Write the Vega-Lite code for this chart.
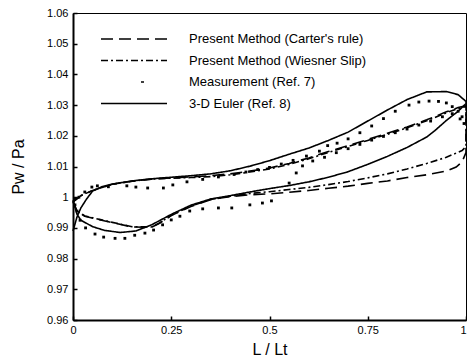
{
  "$schema": "https://vega.github.io/schema/vega-lite/v6.json",
  "width": 393,
  "height": 307,
  "autosize": {"type": "none"},
  "padding": {"left": 73, "top": 13, "right": 1, "bottom": 40},
  "background": "white",
  "config": {
    "view": {"stroke": "black", "strokeWidth": 1},
    "font": "Arial",
    "axis": {
      "domainColor": "black", "domainWidth": 2, "tickColor": "black", "tickWidth": 1.5,
      "grid": false, "labelColor": "black", "titleColor": "black",
      "labelFont": "Arial", "labelFontSize": 11, "titleFont": "Arial",
      "titleFontSize": 16, "titleFontWeight": "normal"
    },
    "legend": {
      "symbolType": "stroke", "symbolSize": 4356, "symbolStrokeWidth": 1.6,
      "symbolStrokeColor": "black", "labelFont": "Arial", "labelFontSize": 13,
      "labelColor": "black", "labelOffset": 21, "rowPadding": 7.5, "clipHeight": 13,
      "padding": 0, "labelLimit": 300
    }
  },
  "datasets": {
    "curves": [
      {"s": "Present Method (Carter's rule)", "i": 1, "L": 0.00, "P": 0.9985},
      {"s": "Present Method (Carter's rule)", "i": 2, "L": 0.02, "P": 1.0005},
      {"s": "Present Method (Carter's rule)", "i": 3, "L": 0.05, "P": 1.0022},
      {"s": "Present Method (Carter's rule)", "i": 4, "L": 0.10, "P": 1.0042},
      {"s": "Present Method (Carter's rule)", "i": 5, "L": 0.15, "P": 1.0052},
      {"s": "Present Method (Carter's rule)", "i": 6, "L": 0.20, "P": 1.0059},
      {"s": "Present Method (Carter's rule)", "i": 7, "L": 0.25, "P": 1.0063},
      {"s": "Present Method (Carter's rule)", "i": 8, "L": 0.30, "P": 1.0066},
      {"s": "Present Method (Carter's rule)", "i": 9, "L": 0.35, "P": 1.0070},
      {"s": "Present Method (Carter's rule)", "i": 10, "L": 0.40, "P": 1.0076},
      {"s": "Present Method (Carter's rule)", "i": 11, "L": 0.45, "P": 1.0085},
      {"s": "Present Method (Carter's rule)", "i": 12, "L": 0.50, "P": 1.0095},
      {"s": "Present Method (Carter's rule)", "i": 13, "L": 0.55, "P": 1.0110},
      {"s": "Present Method (Carter's rule)", "i": 14, "L": 0.60, "P": 1.0128},
      {"s": "Present Method (Carter's rule)", "i": 15, "L": 0.65, "P": 1.0149},
      {"s": "Present Method (Carter's rule)", "i": 16, "L": 0.70, "P": 1.0168},
      {"s": "Present Method (Carter's rule)", "i": 17, "L": 0.75, "P": 1.0188},
      {"s": "Present Method (Carter's rule)", "i": 18, "L": 0.80, "P": 1.0208},
      {"s": "Present Method (Carter's rule)", "i": 19, "L": 0.85, "P": 1.0229},
      {"s": "Present Method (Carter's rule)", "i": 20, "L": 0.90, "P": 1.0252},
      {"s": "Present Method (Carter's rule)", "i": 21, "L": 0.95, "P": 1.0278},
      {"s": "Present Method (Carter's rule)", "i": 22, "L": 0.98, "P": 1.0292},
      {"s": "Present Method (Carter's rule)", "i": 23, "L": 1.00, "P": 1.0298},
      {"s": "Present Method (Carter's rule)", "i": 24, "L": 1.00, "P": 1.0145},
      {"s": "Present Method (Carter's rule)", "i": 25, "L": 0.99, "P": 1.0115},
      {"s": "Present Method (Carter's rule)", "i": 26, "L": 0.975, "P": 1.0098},
      {"s": "Present Method (Carter's rule)", "i": 27, "L": 0.95, "P": 1.0085},
      {"s": "Present Method (Carter's rule)", "i": 28, "L": 0.90, "P": 1.0073},
      {"s": "Present Method (Carter's rule)", "i": 29, "L": 0.85, "P": 1.0064},
      {"s": "Present Method (Carter's rule)", "i": 30, "L": 0.80, "P": 1.0053},
      {"s": "Present Method (Carter's rule)", "i": 31, "L": 0.75, "P": 1.0045},
      {"s": "Present Method (Carter's rule)", "i": 32, "L": 0.70, "P": 1.0036},
      {"s": "Present Method (Carter's rule)", "i": 33, "L": 0.65, "P": 1.0029},
      {"s": "Present Method (Carter's rule)", "i": 34, "L": 0.60, "P": 1.0022},
      {"s": "Present Method (Carter's rule)", "i": 35, "L": 0.55, "P": 1.0016},
      {"s": "Present Method (Carter's rule)", "i": 36, "L": 0.50, "P": 1.0011},
      {"s": "Present Method (Carter's rule)", "i": 37, "L": 0.45, "P": 1.0008},
      {"s": "Present Method (Carter's rule)", "i": 38, "L": 0.40, "P": 1.0002},
      {"s": "Present Method (Carter's rule)", "i": 39, "L": 0.35, "P": 0.9992},
      {"s": "Present Method (Carter's rule)", "i": 40, "L": 0.30, "P": 0.9970},
      {"s": "Present Method (Carter's rule)", "i": 41, "L": 0.25, "P": 0.9940},
      {"s": "Present Method (Carter's rule)", "i": 42, "L": 0.22, "P": 0.9915},
      {"s": "Present Method (Carter's rule)", "i": 43, "L": 0.20, "P": 0.9902},
      {"s": "Present Method (Carter's rule)", "i": 44, "L": 0.15, "P": 0.9903},
      {"s": "Present Method (Carter's rule)", "i": 45, "L": 0.10, "P": 0.9917},
      {"s": "Present Method (Carter's rule)", "i": 46, "L": 0.07, "P": 0.9926},
      {"s": "Present Method (Carter's rule)", "i": 47, "L": 0.03, "P": 0.9938},
      {"s": "Present Method (Carter's rule)", "i": 48, "L": 0.01, "P": 0.9955},
      {"s": "Present Method (Carter's rule)", "i": 49, "L": 0.00, "P": 0.9985},

      {"s": "Present Method (Wiesner Slip)", "i": 1, "L": 0.00, "P": 0.9985},
      {"s": "Present Method (Wiesner Slip)", "i": 2, "L": 0.02, "P": 1.0005},
      {"s": "Present Method (Wiesner Slip)", "i": 3, "L": 0.05, "P": 1.0022},
      {"s": "Present Method (Wiesner Slip)", "i": 4, "L": 0.10, "P": 1.0042},
      {"s": "Present Method (Wiesner Slip)", "i": 5, "L": 0.15, "P": 1.0052},
      {"s": "Present Method (Wiesner Slip)", "i": 6, "L": 0.20, "P": 1.0059},
      {"s": "Present Method (Wiesner Slip)", "i": 7, "L": 0.25, "P": 1.0062},
      {"s": "Present Method (Wiesner Slip)", "i": 8, "L": 0.30, "P": 1.0064},
      {"s": "Present Method (Wiesner Slip)", "i": 9, "L": 0.35, "P": 1.0067},
      {"s": "Present Method (Wiesner Slip)", "i": 10, "L": 0.40, "P": 1.0073},
      {"s": "Present Method (Wiesner Slip)", "i": 11, "L": 0.45, "P": 1.0082},
      {"s": "Present Method (Wiesner Slip)", "i": 12, "L": 0.50, "P": 1.0092},
      {"s": "Present Method (Wiesner Slip)", "i": 13, "L": 0.55, "P": 1.0107},
      {"s": "Present Method (Wiesner Slip)", "i": 14, "L": 0.60, "P": 1.0125},
      {"s": "Present Method (Wiesner Slip)", "i": 15, "L": 0.65, "P": 1.0146},
      {"s": "Present Method (Wiesner Slip)", "i": 16, "L": 0.70, "P": 1.0165},
      {"s": "Present Method (Wiesner Slip)", "i": 17, "L": 0.75, "P": 1.0185},
      {"s": "Present Method (Wiesner Slip)", "i": 18, "L": 0.80, "P": 1.0205},
      {"s": "Present Method (Wiesner Slip)", "i": 19, "L": 0.85, "P": 1.0226},
      {"s": "Present Method (Wiesner Slip)", "i": 20, "L": 0.90, "P": 1.0249},
      {"s": "Present Method (Wiesner Slip)", "i": 21, "L": 0.95, "P": 1.0275},
      {"s": "Present Method (Wiesner Slip)", "i": 22, "L": 0.98, "P": 1.0289},
      {"s": "Present Method (Wiesner Slip)", "i": 23, "L": 1.00, "P": 1.0295},
      {"s": "Present Method (Wiesner Slip)", "i": 24, "L": 1.00, "P": 1.0165},
      {"s": "Present Method (Wiesner Slip)", "i": 25, "L": 0.99, "P": 1.0152},
      {"s": "Present Method (Wiesner Slip)", "i": 26, "L": 0.95, "P": 1.0130},
      {"s": "Present Method (Wiesner Slip)", "i": 27, "L": 0.90, "P": 1.0110},
      {"s": "Present Method (Wiesner Slip)", "i": 28, "L": 0.85, "P": 1.0092},
      {"s": "Present Method (Wiesner Slip)", "i": 29, "L": 0.80, "P": 1.0076},
      {"s": "Present Method (Wiesner Slip)", "i": 30, "L": 0.75, "P": 1.0063},
      {"s": "Present Method (Wiesner Slip)", "i": 31, "L": 0.70, "P": 1.0051},
      {"s": "Present Method (Wiesner Slip)", "i": 32, "L": 0.65, "P": 1.0041},
      {"s": "Present Method (Wiesner Slip)", "i": 33, "L": 0.60, "P": 1.0032},
      {"s": "Present Method (Wiesner Slip)", "i": 34, "L": 0.55, "P": 1.0025},
      {"s": "Present Method (Wiesner Slip)", "i": 35, "L": 0.50, "P": 1.0018},
      {"s": "Present Method (Wiesner Slip)", "i": 36, "L": 0.45, "P": 1.0012},
      {"s": "Present Method (Wiesner Slip)", "i": 37, "L": 0.40, "P": 1.0003},
      {"s": "Present Method (Wiesner Slip)", "i": 38, "L": 0.35, "P": 0.9993},
      {"s": "Present Method (Wiesner Slip)", "i": 39, "L": 0.30, "P": 0.9971},
      {"s": "Present Method (Wiesner Slip)", "i": 40, "L": 0.25, "P": 0.9941},
      {"s": "Present Method (Wiesner Slip)", "i": 41, "L": 0.22, "P": 0.9916},
      {"s": "Present Method (Wiesner Slip)", "i": 42, "L": 0.20, "P": 0.9903},
      {"s": "Present Method (Wiesner Slip)", "i": 43, "L": 0.15, "P": 0.9904},
      {"s": "Present Method (Wiesner Slip)", "i": 44, "L": 0.10, "P": 0.9918},
      {"s": "Present Method (Wiesner Slip)", "i": 45, "L": 0.07, "P": 0.9927},
      {"s": "Present Method (Wiesner Slip)", "i": 46, "L": 0.03, "P": 0.9939},
      {"s": "Present Method (Wiesner Slip)", "i": 47, "L": 0.01, "P": 0.9956},
      {"s": "Present Method (Wiesner Slip)", "i": 48, "L": 0.00, "P": 0.9985},

      {"s": "3-D Euler (Ref. 8)", "i": 1, "L": 0.00, "P": 0.9890},
      {"s": "3-D Euler (Ref. 8)", "i": 2, "L": 0.01, "P": 0.9935},
      {"s": "3-D Euler (Ref. 8)", "i": 3, "L": 0.02, "P": 0.9965},
      {"s": "3-D Euler (Ref. 8)", "i": 4, "L": 0.035, "P": 0.9995},
      {"s": "3-D Euler (Ref. 8)", "i": 5, "L": 0.05, "P": 1.0020},
      {"s": "3-D Euler (Ref. 8)", "i": 6, "L": 0.075, "P": 1.0035},
      {"s": "3-D Euler (Ref. 8)", "i": 7, "L": 0.10, "P": 1.0043},
      {"s": "3-D Euler (Ref. 8)", "i": 8, "L": 0.15, "P": 1.0053},
      {"s": "3-D Euler (Ref. 8)", "i": 9, "L": 0.20, "P": 1.0060},
      {"s": "3-D Euler (Ref. 8)", "i": 10, "L": 0.25, "P": 1.0065},
      {"s": "3-D Euler (Ref. 8)", "i": 11, "L": 0.30, "P": 1.0070},
      {"s": "3-D Euler (Ref. 8)", "i": 12, "L": 0.35, "P": 1.0076},
      {"s": "3-D Euler (Ref. 8)", "i": 13, "L": 0.40, "P": 1.0086},
      {"s": "3-D Euler (Ref. 8)", "i": 14, "L": 0.45, "P": 1.0101},
      {"s": "3-D Euler (Ref. 8)", "i": 15, "L": 0.50, "P": 1.0119},
      {"s": "3-D Euler (Ref. 8)", "i": 16, "L": 0.55, "P": 1.0140},
      {"s": "3-D Euler (Ref. 8)", "i": 17, "L": 0.60, "P": 1.0160},
      {"s": "3-D Euler (Ref. 8)", "i": 18, "L": 0.65, "P": 1.0185},
      {"s": "3-D Euler (Ref. 8)", "i": 19, "L": 0.70, "P": 1.0212},
      {"s": "3-D Euler (Ref. 8)", "i": 20, "L": 0.75, "P": 1.0248},
      {"s": "3-D Euler (Ref. 8)", "i": 21, "L": 0.80, "P": 1.0284},
      {"s": "3-D Euler (Ref. 8)", "i": 22, "L": 0.85, "P": 1.0318},
      {"s": "3-D Euler (Ref. 8)", "i": 23, "L": 0.90, "P": 1.0343},
      {"s": "3-D Euler (Ref. 8)", "i": 24, "L": 0.95, "P": 1.0344},
      {"s": "3-D Euler (Ref. 8)", "i": 25, "L": 0.98, "P": 1.0334},
      {"s": "3-D Euler (Ref. 8)", "i": 26, "L": 1.00, "P": 1.0312},
      {"s": "3-D Euler (Ref. 8)", "i": 27, "L": 1.00, "P": 1.0305},
      {"s": "3-D Euler (Ref. 8)", "i": 28, "L": 0.98, "P": 1.0280},
      {"s": "3-D Euler (Ref. 8)", "i": 29, "L": 0.95, "P": 1.0250},
      {"s": "3-D Euler (Ref. 8)", "i": 30, "L": 0.92, "P": 1.0216},
      {"s": "3-D Euler (Ref. 8)", "i": 31, "L": 0.90, "P": 1.0196},
      {"s": "3-D Euler (Ref. 8)", "i": 32, "L": 0.85, "P": 1.0162},
      {"s": "3-D Euler (Ref. 8)", "i": 33, "L": 0.80, "P": 1.0133},
      {"s": "3-D Euler (Ref. 8)", "i": 34, "L": 0.75, "P": 1.0107},
      {"s": "3-D Euler (Ref. 8)", "i": 35, "L": 0.70, "P": 1.0083},
      {"s": "3-D Euler (Ref. 8)", "i": 36, "L": 0.65, "P": 1.0065},
      {"s": "3-D Euler (Ref. 8)", "i": 37, "L": 0.60, "P": 1.0050},
      {"s": "3-D Euler (Ref. 8)", "i": 38, "L": 0.55, "P": 1.0038},
      {"s": "3-D Euler (Ref. 8)", "i": 39, "L": 0.50, "P": 1.0028},
      {"s": "3-D Euler (Ref. 8)", "i": 40, "L": 0.45, "P": 1.0017},
      {"s": "3-D Euler (Ref. 8)", "i": 41, "L": 0.40, "P": 1.0005},
      {"s": "3-D Euler (Ref. 8)", "i": 42, "L": 0.35, "P": 0.9994},
      {"s": "3-D Euler (Ref. 8)", "i": 43, "L": 0.30, "P": 0.9974},
      {"s": "3-D Euler (Ref. 8)", "i": 44, "L": 0.25, "P": 0.9944},
      {"s": "3-D Euler (Ref. 8)", "i": 45, "L": 0.20, "P": 0.9910},
      {"s": "3-D Euler (Ref. 8)", "i": 46, "L": 0.16, "P": 0.9890},
      {"s": "3-D Euler (Ref. 8)", "i": 47, "L": 0.12, "P": 0.9885},
      {"s": "3-D Euler (Ref. 8)", "i": 48, "L": 0.08, "P": 0.9892},
      {"s": "3-D Euler (Ref. 8)", "i": 49, "L": 0.05, "P": 0.9904},
      {"s": "3-D Euler (Ref. 8)", "i": 50, "L": 0.02, "P": 0.9925},
      {"s": "3-D Euler (Ref. 8)", "i": 51, "L": 0.01, "P": 0.9945},
      {"s": "3-D Euler (Ref. 8)", "i": 52, "L": 0.00, "P": 0.9990}
    ],
    "measured": [
      {"L": 0.005, "P": 0.9995}, {"L": 0.015, "P": 1.0000}, {"L": 0.030, "P": 1.0017},
      {"L": 0.048, "P": 1.0033}, {"L": 0.062, "P": 1.0037}, {"L": 0.090, "P": 1.0034},
      {"L": 0.137, "P": 1.0037}, {"L": 0.160, "P": 1.0033}, {"L": 0.190, "P": 1.0030},
      {"L": 0.230, "P": 1.0030}, {"L": 0.254, "P": 1.0040}, {"L": 0.290, "P": 1.0050},
      {"L": 0.330, "P": 1.0058}, {"L": 0.370, "P": 1.0066}, {"L": 0.410, "P": 1.0074},
      {"L": 0.440, "P": 1.0082}, {"L": 0.470, "P": 1.0090}, {"L": 0.500, "P": 1.0097},
      {"L": 0.530, "P": 1.0108}, {"L": 0.560, "P": 1.0120}, {"L": 0.594, "P": 1.0134},
      {"L": 0.627, "P": 1.0150}, {"L": 0.648, "P": 1.0168}, {"L": 0.672, "P": 1.0176},
      {"L": 0.700, "P": 1.0190}, {"L": 0.730, "P": 1.0210}, {"L": 0.760, "P": 1.0232},
      {"L": 0.790, "P": 1.0256}, {"L": 0.820, "P": 1.0280}, {"L": 0.855, "P": 1.0300},
      {"L": 0.880, "P": 1.0310}, {"L": 0.906, "P": 1.0313}, {"L": 0.930, "P": 1.0312},
      {"L": 0.950, "P": 1.0307}, {"L": 0.965, "P": 1.0295}, {"L": 0.980, "P": 1.0280},
      {"L": 0.990, "P": 1.0262},
      {"L": 0.005, "P": 0.9975}, {"L": 0.010, "P": 0.9955}, {"L": 0.018, "P": 0.9925},
      {"L": 0.032, "P": 0.9900}, {"L": 0.056, "P": 0.9880}, {"L": 0.078, "P": 0.9870},
      {"L": 0.107, "P": 0.9866}, {"L": 0.132, "P": 0.9866}, {"L": 0.157, "P": 0.9876},
      {"L": 0.183, "P": 0.9883}, {"L": 0.205, "P": 0.9893}, {"L": 0.228, "P": 0.9910},
      {"L": 0.250, "P": 0.9926}, {"L": 0.272, "P": 0.9938}, {"L": 0.297, "P": 0.9955},
      {"L": 0.330, "P": 0.9962}, {"L": 0.370, "P": 0.9965}, {"L": 0.404, "P": 0.9965},
      {"L": 0.450, "P": 0.9975}, {"L": 0.482, "P": 0.9981}, {"L": 0.505, "P": 0.9988},
      {"L": 0.550, "P": 1.0046}, {"L": 0.568, "P": 1.0079}, {"L": 0.584, "P": 1.0102},
      {"L": 0.610, "P": 1.0118}, {"L": 0.640, "P": 1.0130}, {"L": 0.670, "P": 1.0145},
      {"L": 0.700, "P": 1.0158}, {"L": 0.730, "P": 1.0172}, {"L": 0.760, "P": 1.0186},
      {"L": 0.790, "P": 1.0198}, {"L": 0.820, "P": 1.0210}, {"L": 0.850, "P": 1.0222},
      {"L": 0.880, "P": 1.0235}, {"L": 0.910, "P": 1.0248}, {"L": 0.940, "P": 1.0262},
      {"L": 0.965, "P": 1.0272}, {"L": 0.985, "P": 1.0255}, {"L": 0.995, "P": 1.0240}
    ]
  },
  "encoding": {
    "x": {
      "field": "L", "type": "quantitative",
      "scale": {"domain": [0, 1], "nice": false, "zero": false},
      "axis": {
        "title": "L / Lt", "values": [0, 0.25, 0.5, 0.75, 1], "format": ".2~f",
        "tickSize": -4, "labelPadding": 8, "titlePadding": 6, "labelFlush": false,
        "labelAlign": {"condition": {"test": "datum.value >= 1", "value": "right"}, "value": "center"}
      }
    },
    "y": {
      "field": "P", "type": "quantitative",
      "scale": {"domain": [0.96, 1.06], "nice": false, "zero": false},
      "axis": {
        "title": "Pw / Pa",
        "values": [0.96, 0.97, 0.98, 0.99, 1, 1.01, 1.02, 1.03, 1.04, 1.05, 1.06],
        "format": ".2~f", "tickSize": -4, "labelPadding": 9, "titlePadding": 20
      }
    }
  },
  "layer": [
    {
      "data": {"name": "curves"},
      "mark": {"type": "line", "color": "black", "strokeWidth": 1.6},
      "encoding": {
        "order": {"field": "i", "type": "quantitative"},
        "strokeDash": {
          "field": "s", "type": "nominal",
          "scale": {
            "domain": ["Present Method (Carter's rule)", "Present Method (Wiesner Slip)", "Measurement (Ref. 7)", "3-D Euler (Ref. 8)"],
            "range": [[12, 6], [7, 3, 2, 3], [0, 40, 3, 100], [1, 0]]
          },
          "legend": {"title": null, "orient": "none", "legendX": 27, "legendY": 19.5}
        }
      }
    },
    {
      "data": {"name": "measured"},
      "mark": {"type": "point", "shape": "square", "filled": true, "size": 8, "color": "black", "opacity": 1, "strokeWidth": 0}
    }
  ]
}
